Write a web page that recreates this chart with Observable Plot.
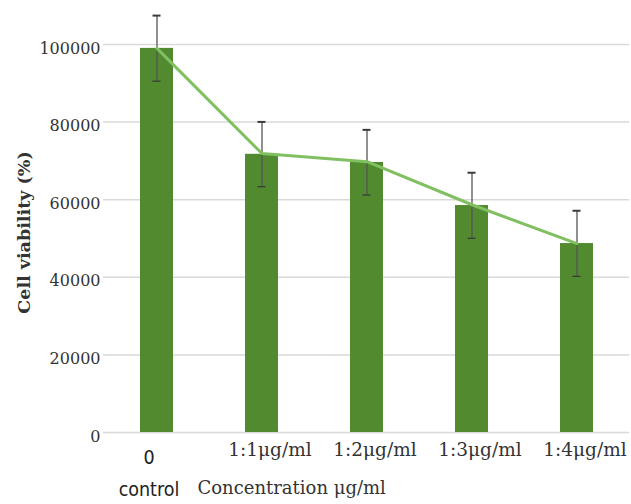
<!DOCTYPE html>
<html>
<head>
<meta charset="utf-8">
<script src="https://cdn.jsdelivr.net/npm/d3@7"></script>
<script src="https://cdn.jsdelivr.net/npm/@observablehq/plot@0.6"></script>
<style>
  html, body { margin: 0; padding: 0; background: #fff; }
  #chart { width: 631px; height: 504px; }
</style>
</head>
<body>
<div id="chart"></div>
<script>
const categories = ["0", "1:1μg/ml", "1:2μg/ml", "1:3μg/ml", "1:4μg/ml"];
const subLabels = ["control", "", "", "", ""];
const means = [99000, 71700, 69600, 58500, 48700];
const errors = [8450, 8350, 8400, 8450, 8450];
const lineValues = [99000, 71900, 69800, 58700, 48700];
const yTicks = [0, 20000, 40000, 60000, 80000, 100000];
const yLabel = "Cell viability (%)";
const xLabel = "Concentration μg/ml";

const data = categories.map((c, i) => ({cat: c, sub: subLabels[i], v: means[i], e: errors[i], lv: lineValues[i]}));
const serif = "'DejaVu Serif', 'Liberation Serif', serif";
const narrow = "'DejaVu Sans Condensed', 'Liberation Sans Narrow', 'Liberation Sans', sans-serif";

const chart = Plot.plot({
  width: 631,
  height: 504,
  marginLeft: 103,
  marginRight: 2,
  marginTop: 44,
  marginBottom: 72,
  style: {background: "#fff"},
  x: {domain: categories, paddingInner: 0.686, paddingOuter: 0.343, axis: null},
  y: {domain: [0, 100000], axis: null},
  marks: [
    Plot.ruleY(yTicks, {y: d => d, stroke: "#d9d9d9", strokeWidth: 1.5}),
    Plot.text(yTicks, {y: d => d, text: d => String(d), frameAnchor: "left", textAnchor: "end", dx: -3, dy: 4,
      fontFamily: serif, fontSize: 16, fill: "#333"}),
    Plot.barY(data, {x: "cat", y: "v", fill: "#528a30"}),
    Plot.ruleX(data, {x: "cat", y1: d => d.v - d.e, y2: d => d.v + d.e, stroke: "#555", strokeWidth: 1.3}),
    Plot.tickY(data, {x: "cat", y: d => d.v + d.e, stroke: "#3a3a3a", strokeWidth: 2, insetLeft: 12.5, insetRight: 12.5}),
    Plot.tickY(data, {x: "cat", y: d => d.v - d.e, stroke: "#3a3a3a", strokeWidth: 1.3, insetLeft: 12.5, insetRight: 12.5}),
    Plot.line(data, {x: "cat", y: "lv", stroke: "#80c060", strokeWidth: 3}),
    Plot.text(data.slice(1), {x: "cat", y: 0, text: "cat", dy: 18, dx: 8, fontFamily: serif, fontSize: 18.5, fill: "#333"}),
    Plot.text(data.slice(0, 1), {x: "cat", y: 0, text: "cat", dy: 25, dx: -8, fontFamily: narrow, fontSize: 19.5, fill: "#222"}),
    Plot.text(data.slice(0, 1), {x: "cat", y: 0, text: "sub", dy: 57, dx: -8, fontFamily: narrow, fontSize: 19.5, fill: "#222"}),
    Plot.text([xLabel], {text: d => d, frameAnchor: "bottom-left", textAnchor: "start", dx: 94, dy: 61,
      fontFamily: serif, fontSize: 18, fill: "#333"}),
    Plot.text([yLabel], {text: d => d, frameAnchor: "left", textAnchor: "middle", rotate: -90, dx: -79, dy: -6,
      fontFamily: serif, fontSize: 17.5, fontWeight: "bold", fill: "#333"})
  ]
});
document.getElementById("chart").appendChild(chart);
</script>
</body>
</html>
